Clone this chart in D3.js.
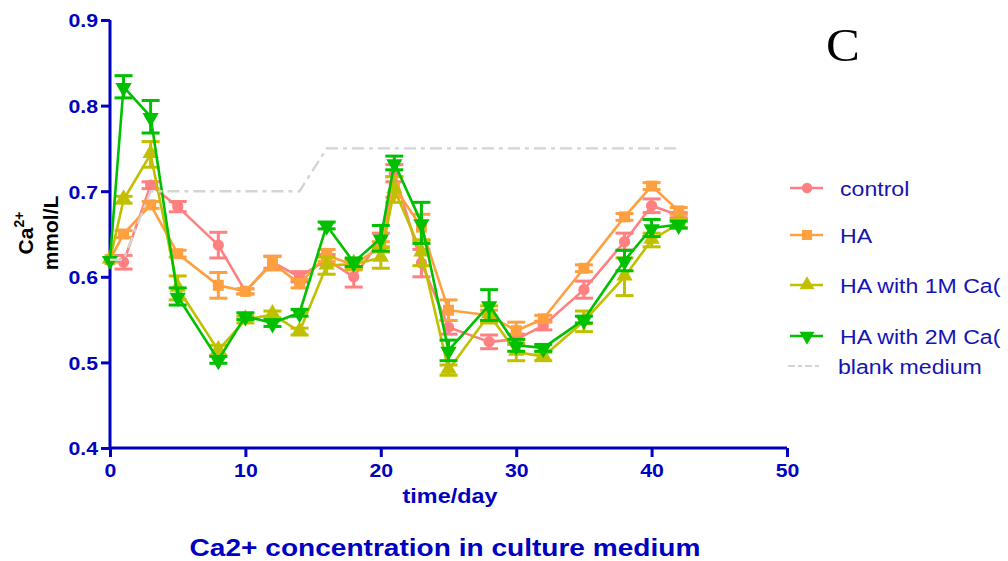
<!DOCTYPE html>
<html>
<head>
<meta charset="utf-8">
<script src="https://cdn.jsdelivr.net/npm/d3@7"></script>
<style>
  html, body { margin: 0; padding: 0; background: #fff; }
  svg { display: block; font-family: "Liberation Sans", Arial, Helvetica, sans-serif; }
</style>
</head>
<body>
<svg id="chart" width="1008" height="561"></svg>
<script>
// Sampling days (time/day)
const days = [0, 1, 3, 5, 8, 10, 12, 14, 16, 18, 20, 21, 23, 25, 28, 30, 32, 35, 38, 40, 42];

// Mean Ca2+ concentration (mmol/L) per group
const controlMean = [0.620, 0.617, 0.707, 0.682, 0.637, 0.583, 0.617, 0.600, 0.620, 0.600, 0.643, 0.721, 0.616, 0.541, 0.524, 0.527, 0.543, 0.585, 0.641, 0.683, 0.672];
const haMean      = [0.620, 0.650, 0.684, 0.627, 0.590, 0.583, 0.616, 0.592, 0.625, 0.614, 0.635, 0.705, 0.658, 0.561, 0.555, 0.537, 0.551, 0.610, 0.670, 0.706, 0.677];
const ha1mMean    = [0.620, 0.690, 0.743, 0.587, 0.514, 0.550, 0.556, 0.536, 0.613, 0.615, 0.622, 0.702, 0.628, 0.491, 0.556, 0.512, 0.507, 0.548, 0.600, 0.643, 0.662];
const ha2mMean    = [0.620, 0.822, 0.787, 0.577, 0.503, 0.554, 0.546, 0.558, 0.660, 0.617, 0.645, 0.733, 0.663, 0.514, 0.567, 0.520, 0.517, 0.550, 0.619, 0.657, 0.661];

// Standard errors (mmol/L) per group
const controlErr = [0.000, 0.008, 0.004, 0.006, 0.015, 0.003, 0.007, 0.006, 0.006, 0.012, 0.008, 0.010, 0.016, 0.008, 0.008, 0.006, 0.005, 0.010, 0.010, 0.008, 0.003];
const haErr      = [0.000, 0.004, 0.004, 0.004, 0.015, 0.003, 0.008, 0.005, 0.007, 0.006, 0.006, 0.012, 0.015, 0.012, 0.006, 0.010, 0.004, 0.004, 0.004, 0.004, 0.004];
const ha1mErr    = [0.000, 0.004, 0.015, 0.014, 0.006, 0.004, 0.004, 0.004, 0.010, 0.006, 0.012, 0.015, 0.015, 0.006, 0.010, 0.010, 0.005, 0.012, 0.022, 0.008, 0.005];
const ha2mErr    = [0.000, 0.013, 0.019, 0.010, 0.004, 0.004, 0.004, 0.004, 0.004, 0.005, 0.015, 0.008, 0.024, 0.012, 0.018, 0.007, 0.004, 0.004, 0.012, 0.010, 0.004];

// Blank medium reference line
const blankDays  = [0, 1, 3, 14, 16, 42];
const blankValue = [0.62, 0.62, 0.70, 0.70, 0.75, 0.75];

// Axis ticks
const xTicks = [0, 10, 20, 30, 40, 50];
const yTicks = [0.4, 0.5, 0.6, 0.7, 0.8, 0.9];

const seriesNames = ["control", "HA", "HA with 1M Ca(", "HA with 2M Ca("];
const blankName = "blank medium";

const series = [
  { name: seriesNames[0], mean: controlMean, err: controlErr, color: "#ff8080", shape: "circle" },
  { name: seriesNames[1], mean: haMean,      err: haErr,      color: "#ffa040", shape: "square" },
  { name: seriesNames[2], mean: ha1mMean,    err: ha1mErr,    color: "#c0c000", shape: "up" },
  { name: seriesNames[3], mean: ha2mMean,    err: ha2mErr,    color: "#00c000", shape: "down" }
];

const axisBlue = "#0000c0";
const textBlue = "#1414b4";
const wide = 1.17;   // horizontal stretch of the bold lettering
const tickWide = 1.12;

const svg = d3.select("#chart");

const x = d3.scaleLinear().domain([0, 50]).range([110, 787]);
const y = d3.scaleLinear().domain([0.4, 0.9]).range([448, 20]);

// Marker symbol generators
function symbolPath(shape, size) {
  const types = {
    circle: d3.symbolCircle,
    square: d3.symbolSquare,
    up: d3.symbolTriangle,
    down: d3.symbolTriangle
  };
  return d3.symbol().type(types[shape]).size(size)();
}
const symbolSize = { circle: 100, square: 120, up: 115, down: 115 };

// Axes
const yAxis = d3.axisLeft(y).tickValues(yTicks).tickFormat(d3.format(".1f")).tickSize(9).tickPadding(6);
const xAxis = d3.axisBottom(x).tickValues(xTicks).tickFormat(d3.format("d")).tickSize(9).tickPadding(7);

const gy = svg.append("g").attr("transform", "translate(110,0)").call(yAxis);
const gx = svg.append("g").attr("transform", "translate(0,448)").call(xAxis);

[gy, gx].forEach(g => {
  g.select(".domain").attr("stroke", axisBlue).attr("stroke-width", 3);
  g.selectAll(".tick line").attr("stroke", axisBlue).attr("stroke-width", 3);
  g.selectAll(".tick text")
    .attr("fill", axisBlue)
    .attr("font-size", 19)
    .attr("font-weight", "bold")
    .attr("font-family", "'Liberation Sans', Arial, sans-serif")
    .attr("transform", `scale(${tickWide},1)`);
});
gy.select(".domain").attr("d", "M-0,20V448");
gx.select(".domain").attr("d", "M110,0H787");
gy.selectAll(".tick text").attr("x", -12 / tickWide).attr("dy", "0.36em");

// Data
const line = d3.line().x((d, i) => x(days[i])).y(d => y(d));

series.forEach(s => {
  const g = svg.append("g");
  g.append("path")
    .attr("d", line(s.mean))
    .attr("fill", "none")
    .attr("stroke", s.color)
    .attr("stroke-width", 2.6)
    .attr("stroke-linejoin", "round");

  // Error bars with caps
  const eb = g.selectAll(".eb").data(s.mean.map((m, i) => ({ d: days[i], m, e: s.err[i] })).filter(p => p.e > 0))
    .enter().append("g");
  eb.append("line")
    .attr("x1", p => x(p.d)).attr("x2", p => x(p.d))
    .attr("y1", p => y(p.m - p.e)).attr("y2", p => y(p.m + p.e))
    .attr("stroke", s.color).attr("stroke-width", 3);
  [-1, 1].forEach(sign => {
    eb.append("line")
      .attr("x1", p => x(p.d) - 9).attr("x2", p => x(p.d) + 9)
      .attr("y1", p => y(p.m + sign * p.e)).attr("y2", p => y(p.m + sign * p.e))
      .attr("stroke", s.color).attr("stroke-width", 3);
  });

  g.selectAll(".mk").data(s.mean).enter().append("path")
    .attr("d", symbolPath(s.shape, symbolSize[s.shape]))
    .attr("transform", (d, i) => `translate(${x(days[i])},${y(d) + (s.shape === "up" ? -1 : s.shape === "down" ? 1 : 0)})${s.shape === "down" ? " rotate(180)" : ""}`)
    .attr("fill", s.color);
});

// Blank medium line
const blankLine = d3.line().x((d, i) => x(blankDays[i])).y(d => y(d));
svg.append("path")
  .attr("d", blankLine(blankValue))
  .attr("fill", "none")
  .attr("stroke", "#d4d4d4")
  .attr("stroke-width", 2.4)
  .attr("stroke-dasharray", "12,5,4,5");

// Legend
const legendY = [188, 235, 285, 336];
series.forEach((s, i) => {
  const ly = legendY[i];
  svg.append("line")
    .attr("x1", 790).attr("x2", 823).attr("y1", ly).attr("y2", ly)
    .attr("stroke", s.color).attr("stroke-width", 2.6);
  svg.append("path")
    .attr("d", symbolPath(s.shape, symbolSize[s.shape] * 0.85))
    .attr("transform", `translate(807,${ly})${s.shape === "down" ? " rotate(180)" : ""}`)
    .attr("fill", s.color);
  svg.append("text")
    .attr("transform", `translate(840,${ly}) scale(1.1,1)`)
    .attr("dy", "0.36em")
    .attr("fill", textBlue).attr("font-size", 21)
    .text(s.name);
});
svg.append("line")
  .attr("x1", 788).attr("x2", 821).attr("y1", 366).attr("y2", 366)
  .attr("stroke", "#d4d4d4").attr("stroke-width", 2.2)
  .attr("stroke-dasharray", "7,3,4,3");
svg.append("text")
  .attr("transform", "translate(838,366) scale(1.1,1)")
  .attr("dy", "0.36em")
  .attr("fill", textBlue).attr("font-size", 21)
  .text(blankName);

// Axis titles
const yTitle = svg.append("text")
  .attr("transform", "translate(37,233) rotate(-90)")
  .attr("text-anchor", "middle")
  .attr("font-size", 21)
  .attr("font-weight", "bold")
  .attr("fill", "#000");
const t1 = yTitle.append("tspan").attr("x", 0).attr("dy", "-0.2em").text("Ca");
t1.append("tspan").attr("font-size", 14).attr("dy", "-0.6em").text("2+");
yTitle.append("tspan").attr("x", 0).attr("dy", "1.6em").text("mmol/L");

svg.append("text")
  .attr("transform", `translate(450,503) scale(${wide},1)`)
  .attr("text-anchor", "middle")
  .attr("font-size", 20)
  .attr("font-weight", "bold")
  .attr("fill", axisBlue)
  .text("time/day");

svg.append("text")
  .attr("transform", `translate(445,556) scale(${wide},1)`)
  .attr("text-anchor", "middle")
  .attr("font-size", 24)
  .attr("font-weight", "bold")
  .attr("fill", axisBlue)
  .text("Ca2+ concentration in culture medium");

// Panel letter
svg.append("text")
  .attr("transform", "translate(843,61) scale(1.08,1)")
  .attr("text-anchor", "middle")
  .attr("font-size", 47)
  .attr("font-family", "'Liberation Serif', 'Times New Roman', serif")
  .attr("fill", "#000")
  .text("C");
</script>
</body>
</html>
